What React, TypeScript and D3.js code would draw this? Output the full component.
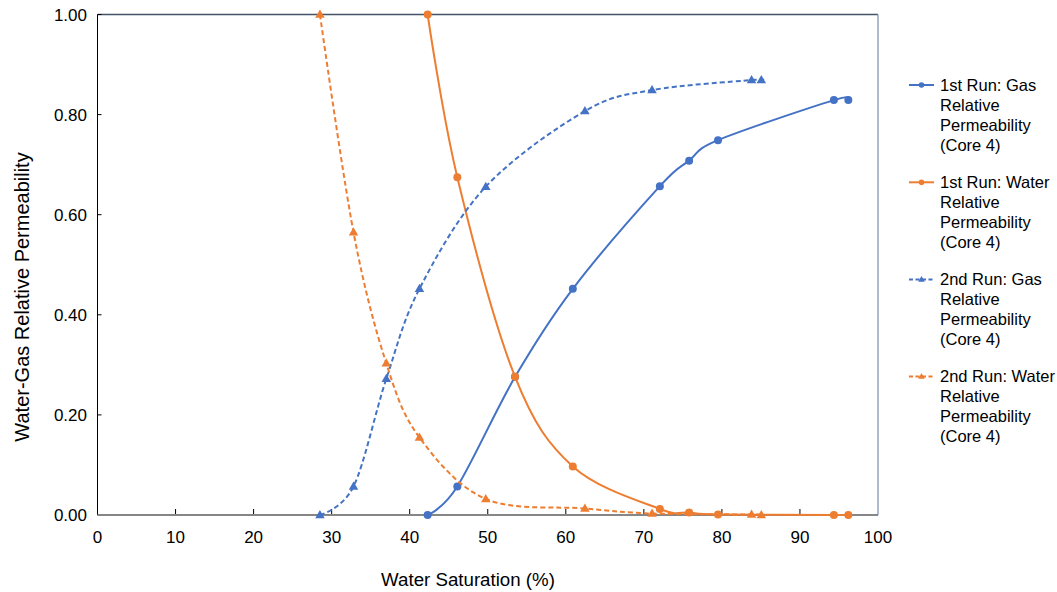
import React from "react";
import * as d3 from "d3";

const run1X = [42.3, 46.1, 53.5, 60.9, 72.05, 75.8, 79.5, 94.35, 96.2];
const run1Gas = [0, 0.057, 0.276, 0.452, 0.657, 0.708, 0.749, 0.829, 0.829];
const run1Water = [1.0, 0.675, 0.276, 0.097, 0.012, 0.005, 0.001, 0, 0];
const run2X = [28.5, 32.8, 37.0, 41.25, 49.75, 62.45, 71.05, 83.8, 85.05];
const run2Gas = [0, 0.057, 0.272, 0.452, 0.656, 0.807, 0.849, 0.869, 0.869];
const run2Water = [1.0, 0.565, 0.303, 0.155, 0.032, 0.013, 0.003, 0.001, 0];

const xTicks = [0, 10, 20, 30, 40, 50, 60, 70, 80, 90, 100];
const yTicks = [0, 0.2, 0.4, 0.6, 0.8, 1.0];

const seriesNames = [
  ["1st Run: Gas", "Relative", "Permeability", "(Core 4)"],
  ["1st Run: Water", "Relative", "Permeability", "(Core 4)"],
  ["2nd Run: Gas", "Relative", "Permeability", "(Core 4)"],
  ["2nd Run: Water", "Relative", "Permeability", "(Core 4)"],
];

const BLUE = "#4472C4";
const ORANGE = "#ED7D31";
const FONT = "Liberation Sans, Arial, sans-serif";

export default function App() {
  const W = 1057, H = 592;
  const left = 97.5, right = 878, top = 14.5, bottom = 515;
  const x = d3.scaleLinear().domain([0, 100]).range([left, right]);
  const y = d3.scaleLinear().domain([0, 1]).range([bottom, top]);

  const series = [
    { xs: run1X, ys: run1Gas, color: BLUE, dashed: false, marker: "circle" },
    { xs: run1X, ys: run1Water, color: ORANGE, dashed: false, marker: "circle" },
    { xs: run2X, ys: run2Gas, color: BLUE, dashed: true, marker: "triangle" },
    { xs: run2X, ys: run2Water, color: ORANGE, dashed: true, marker: "triangle" },
  ];

  const line = d3
    .line<[number, number]>()
    .x((d) => x(d[0]))
    .y((d) => y(d[1]))
    .curve(d3.curveCatmullRom.alpha(0));

  const tri = (cx: number, cy: number, s: number) =>
    `M${cx},${cy - s}L${cx + s * 0.95},${cy + s * 0.65}L${cx - s * 0.95},${cy + s * 0.65}Z`;

  const marker = (m: string, cx: number, cy: number, color: string, small = false, key?: any) =>
    m === "circle" ? (
      <circle key={key} cx={cx} cy={cy} r={small ? 2.8 : 4} fill={color} />
    ) : (
      <path key={key} d={tri(cx, cy, small ? 3.5 : 5)} fill={color} />
    );

  const legendY = [85, 182.3, 279.5, 376.5];

  return (
    <svg
      width={W}
      height={H}
      style={{ position: "absolute", left: 0, top: 0, background: "#fff" }}
      fontFamily={FONT}
    >
      <rect x={0} y={0} width={W} height={H} fill="#fff" />
      {/* frame */}
      <line x1={left} x2={right} y1={top} y2={top} stroke="#44546A" strokeWidth={1.3} />
      <line x1={right} x2={right} y1={top} y2={bottom} stroke="#8497B0" strokeWidth={1.3} />
      <line x1={left} x2={left} y1={top} y2={bottom} stroke="#000" strokeWidth={1} />
      {yTicks.map((t) => (
        <g key={"yt" + t}>
          <line x1={left} x2={left + 4} y1={y(t)} y2={y(t)} stroke="#000" strokeWidth={1} />
          <text x={87} y={y(t)} dy="0.36em" textAnchor="end" fontSize={17} fill="#000">
            {d3.format(".2f")(t)}
          </text>
        </g>
      ))}
      {xTicks.map((t) => (
        <g key={"xt" + t}>
          {t > 0 && t < 100 && (
            <line x1={x(t)} x2={x(t)} y1={bottom} y2={bottom - 6} stroke="#000" strokeWidth={1} />
          )}
          <text x={x(t)} y={537} dy="0.36em" textAnchor="middle" fontSize={17} fill="#000">
            {t}
          </text>
        </g>
      ))}
      <line x1={left} x2={right} y1={bottom} y2={bottom} stroke="#868686" strokeWidth={2} />

      {series.map((s, i) => {
        const pts = s.xs.map((v, j) => [v, s.ys[j]] as [number, number]);
        return (
          <g key={"s" + i}>
            <path
              d={line(pts) || ""}
              fill="none"
              stroke={s.color}
              strokeWidth={2}
              strokeDasharray={s.dashed ? "5,3" : undefined}
            />
            {pts.map((p, j) => marker(s.marker, x(p[0]), y(p[1]), s.color, false, j))}
          </g>
        );
      })}

      {/* axis titles */}
      <text x={468} y={579} dy="0.36em" textAnchor="middle" fontSize={18.7} fill="#000">
        Water Saturation (%)
      </text>
      <text
        transform={`translate(22,${297}) rotate(-90)`}
        textAnchor="middle"
        dy="0.36em"
        fontSize={20}
        fill="#000"
      >
        Water-Gas Relative Permeability
      </text>

      {/* legend */}
      {series.map((s, i) => (
        <g key={"lg" + i}>
          <line
            x1={909}
            x2={934}
            y1={legendY[i]}
            y2={legendY[i]}
            stroke={s.color}
            strokeWidth={2}
            strokeDasharray={s.dashed ? "4,2.5" : undefined}
          />
          {marker(s.marker, 921.5, legendY[i], s.color, true)}
          {seriesNames[i].map((ln, k) => (
            <text key={k} x={940} y={legendY[i] + k * 20} dy="0.36em" fontSize={16.5} fill="#000">
              {ln}
            </text>
          ))}
        </g>
      ))}
    </svg>
  );
}
